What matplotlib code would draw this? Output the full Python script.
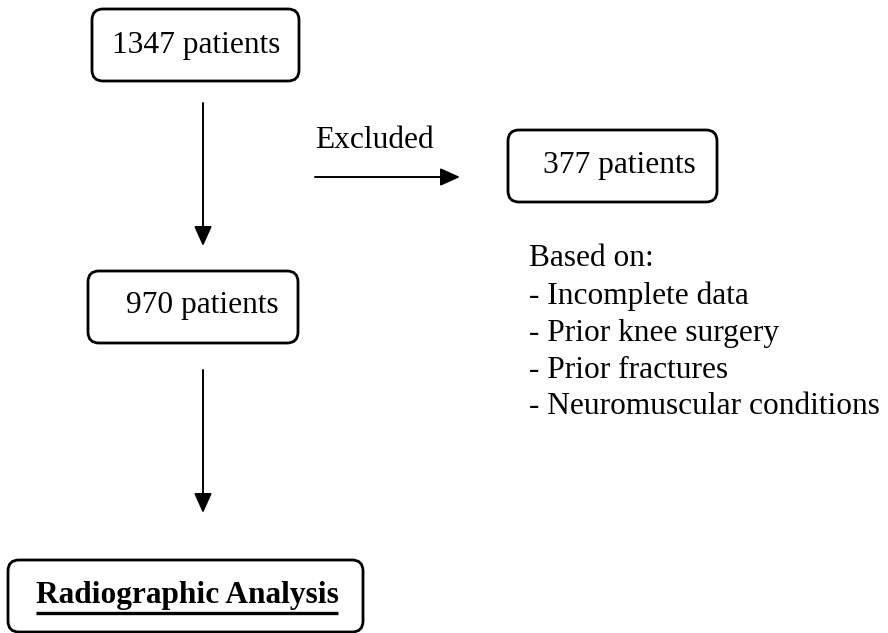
import matplotlib.pyplot as plt
from matplotlib.patches import FancyBboxPatch

plt.rcParams['font.family'] = ['Liberation Serif', 'DejaVu Serif']

# flow counts
total_patients = 1347
excluded_patients = 377
included_patients = total_patients - excluded_patients
exclusion_reasons = ['Incomplete data', 'Prior knee surgery', 'Prior fractures',
                     'Neuromuscular conditions']
final_step = 'Radiographic Analysis'

W, H = 888, 633
fig = plt.figure(figsize=(W / 100, H / 100), dpi=100)
ax = fig.add_axes([0, 0, 1, 1])
ax.set_xlim(0, W)
ax.set_ylim(H, 0)
ax.axis('off')

FS = 22.6


def box(x0, y0, x1, y1):
    p = FancyBboxPatch((x0, y0), x1 - x0, y1 - y0,
                       boxstyle='round,pad=0,rounding_size=11',
                       fc='white', ec='black', lw=2)
    ax.add_patch(p)


def arrow(x0, y0, x1, y1):
    ax.annotate('', xy=(x1, y1), xytext=(x0, y0),
                arrowprops=dict(arrowstyle='-|>,head_length=0.6,head_width=0.27',
                                mutation_scale=20, lw=1.4, color='black',
                                shrinkA=0, shrinkB=0))


# boxes
box(92, 9, 299, 81)
ax.text(196, 45, f'{total_patients} patients', fontsize=FS, ha='center', va='center')

box(88, 271, 298, 343)
ax.text(279, 306, f'{included_patients} patients', fontsize=FS, ha='right', va='center')

box(508, 130, 717, 202)
ax.text(543, 165, f'{excluded_patients} patients', fontsize=FS, ha='left', va='center')

box(8, 560, 363, 632)
t = ax.text(187, 596, final_step, fontsize=FS, fontweight='bold', ha='center', va='center')

# arrows
arrow(203, 103, 203, 246)
arrow(203, 370, 203, 513)
arrow(315, 177, 460, 177)
ax.text(315, 141, 'Excluded', fontsize=FS, ha='left', va='center')

# exclusion reasons
ax.text(529, 259, 'Based on:', fontsize=FS, ha='left', va='center')
for i, r in enumerate(exclusion_reasons):
    ax.text(529, 296 + i * 37, '- ' + r, fontsize=FS, ha='left', va='center')

# underline for final step
fig.canvas.draw()
bb = t.get_window_extent().transformed(ax.transData.inverted())
ax.plot([bb.x0, bb.x1], [613, 613], color='black', lw=2.4, solid_capstyle='butt')

fig.savefig('out.png', dpi=100)
